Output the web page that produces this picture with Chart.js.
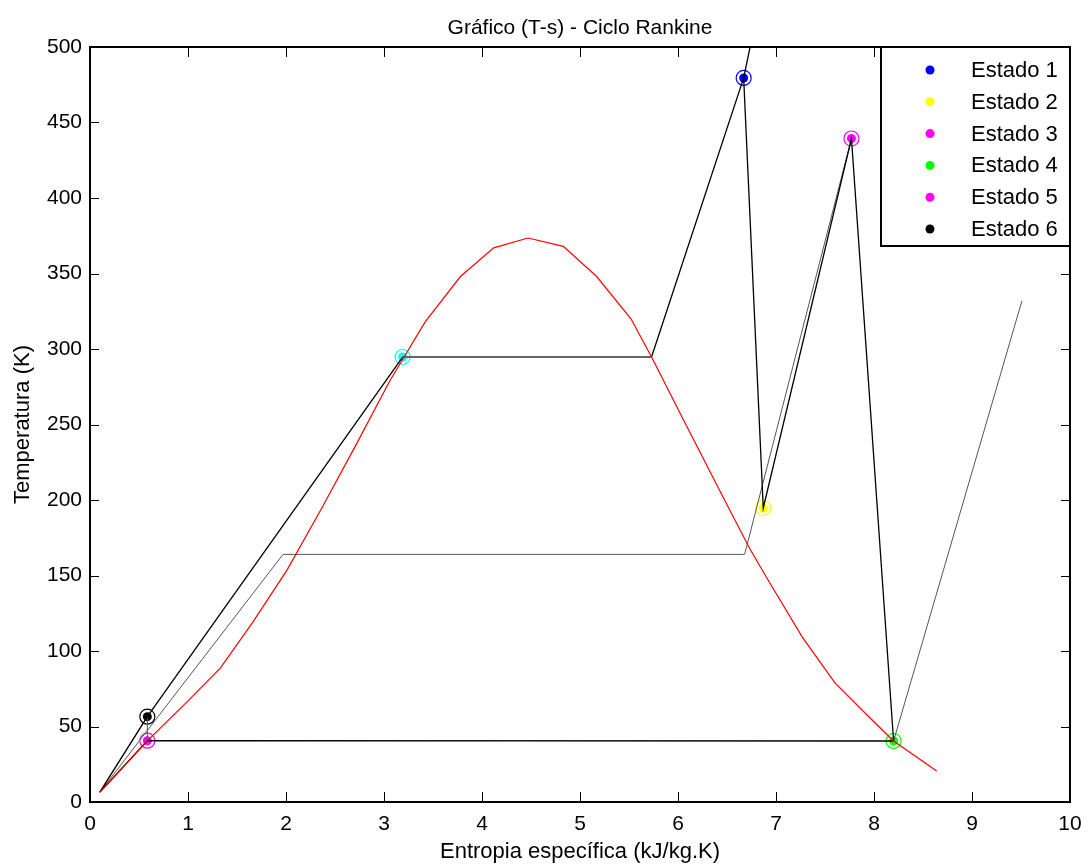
<!DOCTYPE html>
<html>
<head>
<meta charset="utf-8">
<script src="https://cdn.jsdelivr.net/npm/chart.js@4.4.0/dist/chart.umd.min.js"></script>
<style>
html, body { margin: 0; padding: 0; background: #fff; }
#wrap { width: 1088px; height: 868px; }
</style>
</head>
<body>
<div id="wrap"><canvas id="grafico"></canvas></div>
<script>
const titulo = 'Gráfico (T-s) - Ciclo Rankine';
const xTicks = [0, 1, 2, 3, 4, 5, 6, 7, 8, 9, 10];
const yTicks = [0, 50, 100, 150, 200, 250, 300, 350, 400, 450, 500];

// curva de saturacao (vermelha)
const domoS = [0.10, 0.585, 0.98, 1.33, 1.66, 2.01, 2.36, 2.71, 3.06, 3.42, 3.78, 4.12, 4.47, 4.83, 5.17, 5.52, 5.73, 6.08, 6.42, 6.73, 6.91, 7.27, 7.60, 7.96, 8.20, 8.64];
const domoT = [6.5, 40.5, 65.6, 88.7, 119, 153.6, 194, 236, 279, 318, 348, 367, 373.5, 368, 348, 320, 294.7, 250, 207, 168, 148, 109, 79, 55.6, 40.4, 20.5];

// estados
const estados = ['Estado 1', 'Estado 2', 'Estado 3', 'Estado 4', 'Estado 5', 'Estado 6'];
const estadoS = [6.67, 6.87, 7.77, 8.20, 0.585, 0.585];
const estadoT = [479.5, 194.7, 439.4, 40.4, 40.6, 56.5];
const estadoCor = ['#0000ff', '#ffff00', '#ff00ff', '#00ff00', '#ff00ff', '#000000'];
const extraS = [3.19];
const extraT = [294.7];

// linhas do ciclo (null quebra a linha)
const pretaS = [0.10, 0.585, 3.19, null, 0.10, 0.585, 8.20, null, 5.73, 6.67, 6.80, null, 6.67, 6.87, 7.77, 8.20];
const pretaT = [6.5, 56.5, 294.7, null, 6.5, 40.6, 40.4, null, 294.7, 479.5, 520, null, 479.5, 194.7, 439.4, 40.4];
const cinzaS = [0.10, 1.97, 6.68, 7.77, null, 8.20, 9.51, null, 0.585, 0.585, null, 0.10, 0.585];
const cinzaT = [6.5, 164, 164, 439.4, null, 40.4, 332, null, 40.6, 56.5, null, 6.5, 56.5];
const topoS = [3.19, 5.73];
const topoT = [294.7, 294.7];

function pts(sArr, tArr) {
  return sArr.map((s, i) => ({ x: s === null ? 0 : s, y: tArr[i] }));
}

function linha(sArr, tArr, cor, largura, ordem) {
  return {
    data: pts(sArr, tArr),
    showLine: true,
    borderColor: cor,
    borderWidth: largura,
    pointRadius: 0,
    spanGaps: false,
    order: ordem
  };
}

const datasets = [];
datasets.push(linha(domoS, domoT, '#ff0000', 1.2, 1));
datasets.push(linha(pretaS, pretaT, '#000000', 1.3, 2));
datasets.push(linha(topoS, topoT, '#666666', 2, 2));
datasets.push(linha(cinzaS, cinzaT, '#555555', 1, 3));

function marcador(s, t, cor) {
  datasets.push({
    data: [{ x: s, y: t }],
    pointRadius: 7.5,
    pointBackgroundColor: 'rgba(0,0,0,0)',
    pointBorderColor: cor,
    pointBorderWidth: 1.2,
    order: 5
  });
  datasets.push({
    data: [{ x: s, y: t }],
    pointRadius: 4.5,
    pointBackgroundColor: cor,
    pointBorderWidth: 0,
    order: 5
  });
}
estados.forEach((e, i) => marcador(estadoS[i], estadoT[i], estadoCor[i]));
marcador(extraS[0], extraT[0], '#00ffff');

const molduraPlugin = {
  id: 'moldura',
  afterDraw(chart) {
    const ctx = chart.ctx;
    const a = chart.chartArea;
    const xs = chart.scales.x, ys = chart.scales.y;
    ctx.save();
    ctx.strokeStyle = '#000';
    ctx.lineWidth = 1;
    ctx.beginPath();
    xTicks.forEach(v => {
      const px = Math.round(xs.getPixelForValue(v)) + 0.5;
      ctx.moveTo(px, a.bottom); ctx.lineTo(px, a.bottom - 10);
      ctx.moveTo(px, a.top); ctx.lineTo(px, a.top + 10);
    });
    yTicks.forEach(v => {
      const py = Math.round(ys.getPixelForValue(v)) + 0.5;
      ctx.moveTo(a.left, py); ctx.lineTo(a.left + 9, py);
      ctx.moveTo(a.right, py); ctx.lineTo(a.right - 9, py);
    });
    ctx.stroke();
    ctx.lineWidth = 2;
    ctx.strokeRect(a.left, a.top, a.right - a.left, a.bottom - a.top);

    // titulo
    ctx.fillStyle = '#000';
    ctx.font = '21px "Liberation Sans", Arial, sans-serif';
    ctx.textAlign = 'center';
    ctx.textBaseline = 'middle';
    ctx.fillText(titulo, (a.left + a.right) / 2, 28);

    // legenda
    const lx = 881, ly = a.top, lw = a.right - 881, lh = 199;
    ctx.fillStyle = '#fff';
    ctx.fillRect(lx, ly, lw, lh);
    ctx.lineWidth = 2;
    ctx.strokeStyle = '#000';
    ctx.strokeRect(lx, ly, lw, lh);
    ctx.font = '22px "Liberation Sans", Arial, sans-serif';
    ctx.textAlign = 'left';
    estados.forEach((e, i) => {
      const yy = ly + 23 + i * 31.8;
      ctx.fillStyle = estadoCor[i];
      ctx.beginPath();
      ctx.arc(930, yy, 4.5, 0, Math.PI * 2);
      ctx.fill();
      ctx.fillStyle = '#000';
      ctx.fillText(e, 971, yy + 1);
    });
    ctx.restore();
  }
};

Chart.defaults.font.family = '"Liberation Sans", Arial, sans-serif';
Chart.defaults.color = '#000';

new Chart(document.getElementById('grafico'), {
  type: 'scatter',
  data: { datasets: datasets },
  options: {
    responsive: true,
    maintainAspectRatio: false,
    animation: false,
    devicePixelRatio: 1,
    layout: { padding: { left: 10, top: 47, right: 18, bottom: 3 } },
    plugins: {
      legend: { display: false },
      title: { display: false },
      tooltip: { enabled: false }
    },
    scales: {
      x: {
        type: 'linear',
        min: 0,
        max: 10,
        afterBuildTicks: s => { s.ticks = xTicks.map(v => ({ value: v })); },
        afterFit: s => { s.height = 63; s.paddingLeft = 0; s.paddingRight = 0; },
        grid: { display: false, drawTicks: false },
        border: { display: false },
        ticks: { color: '#000', font: { size: 21 }, padding: 10, maxRotation: 0, autoSkip: false },
        title: { display: true, text: 'Entropia específica (kJ/kg.K)', color: '#000', font: { size: 22 }, padding: 0 }
      },
      y: {
        type: 'linear',
        min: 0,
        max: 500,
        afterBuildTicks: s => { s.ticks = yTicks.map(v => ({ value: v })); },
        afterFit: s => { s.width = 80; },
        grid: { display: false, drawTicks: false },
        border: { display: false },
        ticks: { color: '#000', font: { size: 21 }, padding: 8, autoSkip: false },
        title: { display: true, text: 'Temperatura (K)', color: '#000', font: { size: 22 }, padding: 0 }
      }
    }
  },
  plugins: [molduraPlugin]
});
</script>
</body>
</html>
